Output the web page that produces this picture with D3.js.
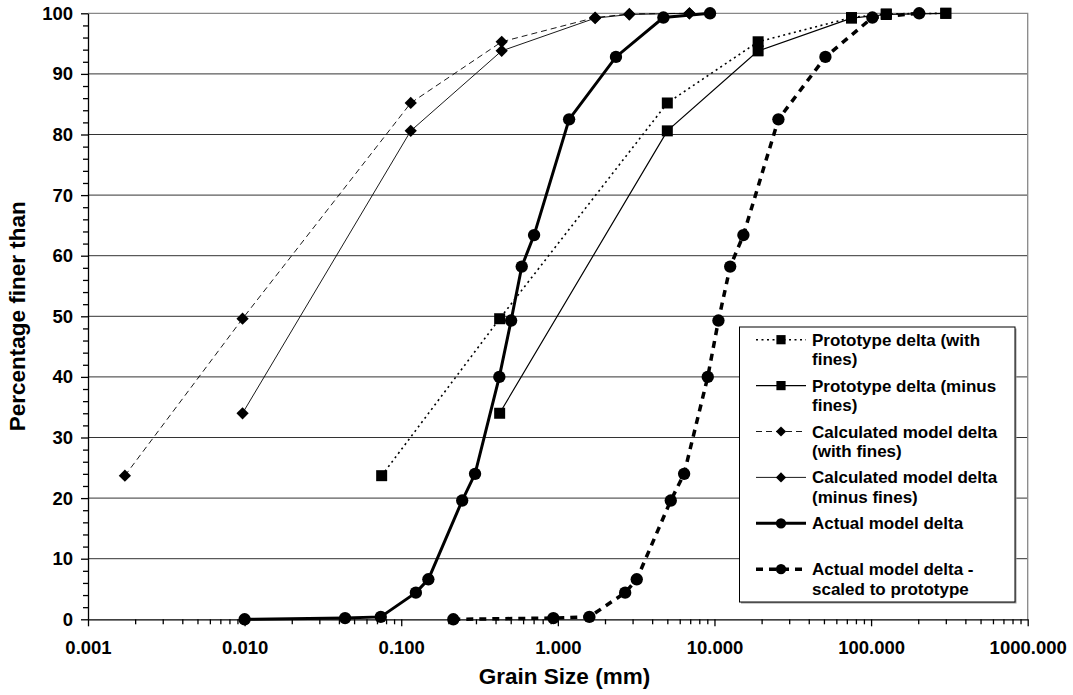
<!DOCTYPE html>
<html>
<head>
<meta charset="utf-8">
<script src="https://cdn.jsdelivr.net/npm/d3@7"></script>
<style>
  body { margin: 0; background: #fff; }
  svg { display: block; font-family: "Liberation Sans", Arial, sans-serif; font-weight: bold; }
</style>
</head>
<body>
<div id="chart"></div>
<script>
"use strict"

// grain sizes (mm) and percentage finer than
const protoX = [0.075, 0.425, 5.0, 19, 75, 125, 300];
const protoWithFines = [23.7, 49.6, 85.2, 95.3, 99.3, 99.9, 100];
const protoMinusFinesX = [0.425, 5.0, 19, 75, 125, 300];
const protoMinusFines = [34.0, 80.6, 93.8, 99.2, 99.8, 100];

const modelX = [0.00172, 0.0097, 0.115, 0.438, 1.73, 2.86, 6.92];
const calcWithFines = [23.7, 49.6, 85.2, 95.3, 99.3, 99.9, 100];
const calcMinusFinesX = [0.0097, 0.115, 0.438, 1.73, 2.86, 6.92];
const calcMinusFines = [34.0, 80.6, 93.8, 99.2, 99.8, 100];

const actualX = [0.010, 0.0438, 0.074, 0.124, 0.149, 0.245, 0.296, 0.423, 0.503, 0.588, 0.705, 1.18, 2.35, 4.72, 9.37];
const actualPct = [0, 0.2, 0.4, 4.4, 6.6, 19.6, 24.0, 40.0, 49.3, 58.2, 63.4, 82.5, 92.8, 99.3, 100];

const scaledX = [0.215, 0.936, 1.59, 2.69, 3.19, 5.26, 6.40, 9.06, 10.6, 12.6, 15.3, 25.6, 51.1, 101.9, 202.8];
const scaledPct = [0, 0.2, 0.4, 4.4, 6.6, 19.6, 24.0, 40.0, 49.3, 58.2, 63.4, 82.5, 92.8, 99.3, 100];

const xTicks = [0.001, 0.01, 0.1, 1, 10, 100, 1000];
const yTicks = [0, 10, 20, 30, 40, 50, 60, 70, 80, 90, 100];

const seriesList = [
  { name: ["Prototype delta (with", "fines)"], x: protoX, y: protoWithFines,
    marker: "square", width: 1.6, dash: "2,3.5" },
  { name: ["Prototype delta (minus", "fines)"], x: protoMinusFinesX, y: protoMinusFines,
    marker: "square", width: 1.2, dash: null },
  { name: ["Calculated model delta", "(with fines)"], x: modelX, y: calcWithFines,
    marker: "diamond", width: 0.9, dash: "6,4" },
  { name: ["Calculated model delta", "(minus fines)"], x: calcMinusFinesX, y: calcMinusFines,
    marker: "diamond", width: 0.9, dash: null },
  { name: ["Actual model delta"], x: actualX, y: actualPct,
    marker: "circle", width: 3, dash: null },
  { name: ["Actual model delta -", "scaled to prototype"], x: scaledX, y: scaledPct,
    marker: "circle", width: 3.5, dash: "7,6" }
];

const chartWidth = 1073, chartHeight = 695;
const plotLeft = 88, plotRight = 1027.7, plotTop = 13.3, plotBottom = 619.3;

let svg = d3.select("#chart").append("svg")
  .attr("width", chartWidth)
  .attr("height", chartHeight);

let x = d3.scaleLog().domain([0.001, 1000]).range([plotLeft, plotRight]);
let y = d3.scaleLinear().domain([0, 100]).range([plotBottom, plotTop]);

// gridlines
svg.append("g")
  .selectAll("line")
  .data(yTicks.filter(d => d > 0 && d < 100))
  .enter()
  .append("line")
    .attr("x1", plotLeft).attr("x2", plotRight)
    .attr("y1", d => y(d)).attr("y2", d => y(d))
    .style("stroke", "#333").style("stroke-width", 1);

// top and right border
svg.append("path")
  .attr("d", `M${plotLeft},${y(100)}H${plotRight}V${plotBottom}`)
  .style("fill", "none").style("stroke", "#888").style("stroke-width", 1.3);

// minor ticks
let minorX = [];
for (let e = -3; e < 3; e++) {
  for (let m = 2; m <= 9; m++) minorX.push(m * Math.pow(10, e));
}
svg.append("g")
  .attr("transform", `translate(0,${plotBottom})`)
  .call(d3.axisBottom(x).tickValues(minorX).tickSize(5).tickFormat(""))
  .call(g => g.select(".domain").remove());

let minorY = d3.range(0, 101, 2).filter(d => d % 10 !== 0);
svg.append("g")
  .attr("transform", `translate(${plotLeft},0)`)
  .call(d3.axisLeft(y).tickValues(minorY).tickSize(5).tickFormat(""))
  .call(g => g.select(".domain").remove());

// main axes
let xAxis = svg.append("g")
  .attr("transform", `translate(0,${plotBottom})`)
  .call(d3.axisBottom(x).tickValues(xTicks).tickSize(7).tickSizeOuter(0).tickPadding(15)
    .tickFormat(d3.format(".3f")));
xAxis.selectAll("text").style("font-size", "18.5px").style("font-family", "inherit").style("fill", "#000");

let yAxis = svg.append("g")
  .attr("transform", `translate(${plotLeft},0)`)
  .call(d3.axisLeft(y).tickValues(yTicks).tickSize(7).tickSizeOuter(0).tickPadding(8));
yAxis.selectAll("text").style("font-size", "18.5px").style("font-family", "inherit").style("fill", "#000");

svg.selectAll(".domain, .tick line").style("stroke", "#000").style("stroke-width", 1.3);

// axis titles
svg.append("text")
  .attr("x", 564.5).attr("y", 684)
  .attr("text-anchor", "middle")
  .style("font-size", "22.5px")
  .text("Grain Size (mm)");

svg.append("text")
  .attr("transform", `translate(25,${(plotTop + plotBottom) / 2}) rotate(-90)`)
  .attr("text-anchor", "middle")
  .style("font-size", "22.5px")
  .text("Percentage finer than");

// marker drawing
function drawMarker(sel, type, scale) {
  if (type === "square") {
    sel.append("path").attr("d", d3.symbol(d3.symbolSquare, 121 * scale)());
  } else if (type === "diamond") {
    sel.append("path").attr("d", d3.symbol(d3.symbolSquare, 75 * scale)())
      .attr("transform", "rotate(45)");
  } else {
    sel.append("path").attr("d", d3.symbol(d3.symbolCircle, 120 * scale)());
  }
}

let line = d3.line().x(d => x(d[0])).y(d => y(d[1]));

for (let s of seriesList) {
  let pts = s.x.map((v, i) => [v, s.y[i]]);
  let g = svg.append("g");
  g.append("path")
    .attr("d", line(pts))
    .style("fill", "none")
    .style("stroke", "#000")
    .style("stroke-width", s.width)
    .style("stroke-dasharray", s.dash);
  g.selectAll("g.pt")
    .data(pts)
    .enter()
    .append("g")
      .attr("class", "pt")
      .attr("transform", d => `translate(${x(d[0])},${y(d[1])})`)
      .each(function () { drawMarker(d3.select(this), s.marker, 1); });
}

// legend
let lx = 739.5, ly = 327, lw = 275.5, lh = 275;
let legend = svg.append("g");
legend.append("rect")
  .attr("x", lx + 1.5).attr("y", ly + 1.5).attr("width", lw).attr("height", lh)
  .style("fill", "#999");
legend.append("rect")
  .attr("x", lx).attr("y", ly).attr("width", lw).attr("height", lh)
  .style("fill", "#fff").style("stroke", "#000").style("stroke-width", 1);

seriesList.forEach((s, i) => {
  let base = 345.7 + i * 45.9;
  let cy = base - 6;
  let item = legend.append("g");
  item.append("line")
    .attr("x1", 756).attr("x2", 806)
    .attr("y1", cy).attr("y2", cy)
    .style("stroke", "#000")
    .style("stroke-width", s.width)
    .style("stroke-dasharray", s.dash);
  let m = item.append("g").attr("transform", `translate(781,${cy})`);
  drawMarker(m, s.marker, 0.7);
  s.name.forEach((t, j) => {
    item.append("text")
      .attr("x", 812).attr("y", base + j * 19.5)
      .style("font-size", "17px")
      .text(t);
  });
});
</script>
</body>
</html>
